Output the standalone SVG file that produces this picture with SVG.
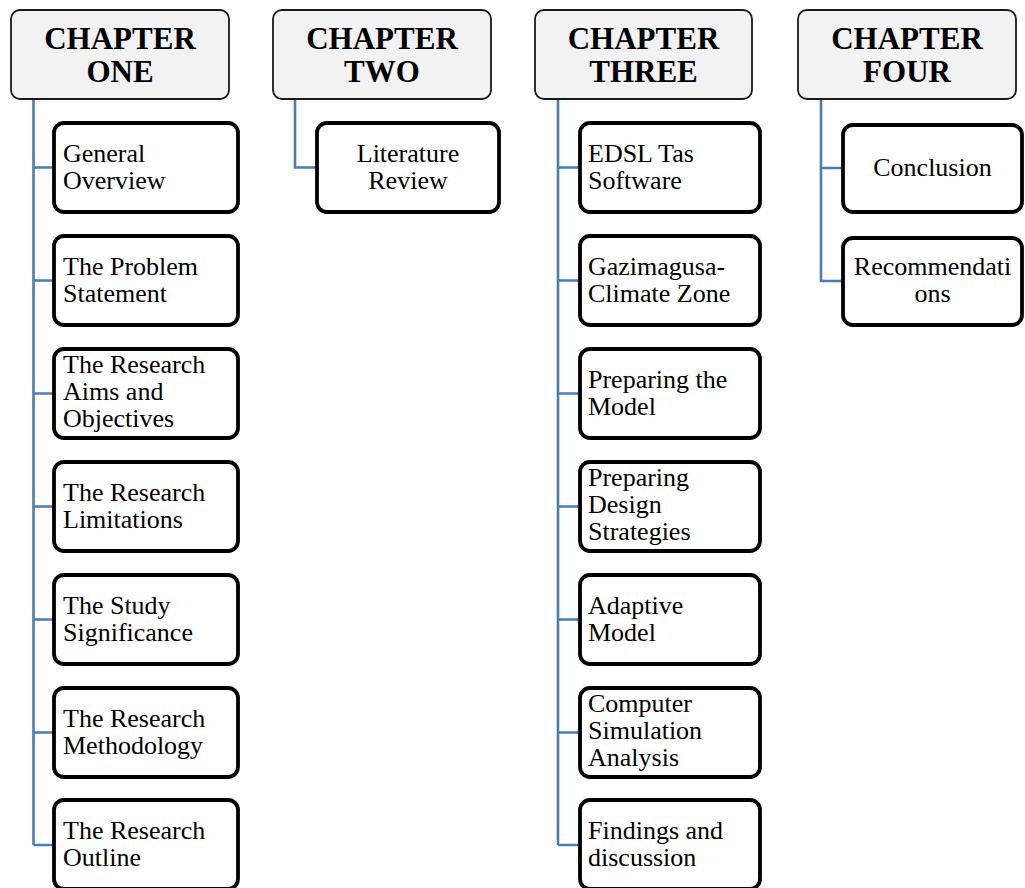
<svg xmlns="http://www.w3.org/2000/svg" width="1025" height="888" viewBox="0 0 1025 888">
<style>
.hdr{fill:#f2f2f2;stroke:#1a1a1a;stroke-width:1.8}
.box{fill:#ffffff;stroke:#000000;stroke-width:3.8}
.ht{font-family:"Liberation Serif","Times New Roman",serif;font-weight:bold;font-size:31px;fill:#000;text-anchor:middle}
.t{font-family:"Liberation Serif","Times New Roman",serif;font-size:26px;fill:#000}
.c{text-anchor:middle}
.conn{fill:none;stroke:#4a7db3;stroke-width:2.6}
</style>
<rect width="1025" height="888" fill="#ffffff"/>
<g id="connectors">
<path class="conn" d="M33.5,99 V845 M33.5,167.5 H53 M33.5,280.5 H53 M33.5,393.5 H53 M33.5,506.5 H53 M33.5,619.5 H53 M33.5,732.5 H53 M33.5,845 H53"/>
<path class="conn" d="M295,99 V167.5 H316"/>
<path class="conn" d="M558,99 V845 M558,167.5 H580 M558,280.5 H580 M558,393.5 H580 M558,506.5 H580 M558,619.5 H580 M558,732.5 H580 M558,845 H580"/>
<path class="conn" d="M821,99 V281 H842 M821,168 H842"/>
</g>
<g id="ch1">
<rect class="hdr" x="11" y="10" width="218" height="89" rx="9"/>
<text class="ht" x="120" y="49">CHAPTER</text>
<text class="ht" x="120" y="82">ONE</text>
</g>
<g id="ch2">
<rect class="hdr" x="273" y="10" width="218" height="89" rx="9"/>
<text class="ht" x="382" y="49">CHAPTER</text>
<text class="ht" x="382" y="82">TWO</text>
</g>
<g id="ch3">
<rect class="hdr" x="535" y="10" width="217" height="89" rx="9"/>
<text class="ht" x="643.5" y="49">CHAPTER</text>
<text class="ht" x="643.5" y="82">THREE</text>
</g>
<g id="ch4">
<rect class="hdr" x="798" y="10" width="218" height="89" rx="9"/>
<text class="ht" x="907" y="49">CHAPTER</text>
<text class="ht" x="907" y="82">FOUR</text>
</g>
<g id="c1n1"><rect class="box" x="54" y="123" width="184" height="89" rx="10"/><text class="t" x="63" y="162">General</text><text class="t" x="63" y="189">Overview</text></g>
<g id="c1n2"><rect class="box" x="54" y="236" width="184" height="89" rx="10"/><text class="t" x="63" y="275">The Problem</text><text class="t" x="63" y="302">Statement</text></g>
<g id="c1n3"><rect class="box" x="54" y="349" width="184" height="89" rx="10"/><text class="t" x="63" y="373">The Research</text><text class="t" x="63" y="400">Aims and</text><text class="t" x="63" y="427">Objectives</text></g>
<g id="c1n4"><rect class="box" x="54" y="462" width="184" height="89" rx="10"/><text class="t" x="63" y="501">The Research</text><text class="t" x="63" y="528">Limitations</text></g>
<g id="c1n5"><rect class="box" x="54" y="575" width="184" height="89" rx="10"/><text class="t" x="63" y="614">The Study</text><text class="t" x="63" y="641">Significance</text></g>
<g id="c1n6"><rect class="box" x="54" y="688" width="184" height="89" rx="10"/><text class="t" x="63" y="727">The Research</text><text class="t" x="63" y="754">Methodology</text></g>
<g id="c1n7"><rect class="box" x="54" y="800" width="184" height="89" rx="10"/><text class="t" x="63" y="839">The Research</text><text class="t" x="63" y="866">Outline</text></g>
<g id="c2n1"><rect class="box" x="317" y="123" width="182" height="89" rx="10"/><text class="t c" x="408" y="162">Literature</text><text class="t c" x="408" y="189">Review</text></g>
<g id="c3n1"><rect class="box" x="580" y="123" width="180" height="89" rx="10"/><text class="t" x="588" y="162">EDSL Tas</text><text class="t" x="588" y="189">Software</text></g>
<g id="c3n2"><rect class="box" x="580" y="236" width="180" height="89" rx="10"/><text class="t" x="588" y="275">Gazimagusa-</text><text class="t" x="588" y="302">Climate Zone</text></g>
<g id="c3n3"><rect class="box" x="580" y="349" width="180" height="89" rx="10"/><text class="t" x="588" y="388">Preparing the</text><text class="t" x="588" y="415">Model</text></g>
<g id="c3n4"><rect class="box" x="580" y="462" width="180" height="89" rx="10"/><text class="t" x="588" y="486">Preparing</text><text class="t" x="588" y="513">Design</text><text class="t" x="588" y="540">Strategies</text></g>
<g id="c3n5"><rect class="box" x="580" y="575" width="180" height="89" rx="10"/><text class="t" x="588" y="614">Adaptive</text><text class="t" x="588" y="641">Model</text></g>
<g id="c3n6"><rect class="box" x="580" y="688" width="180" height="89" rx="10"/><text class="t" x="588" y="712">Computer</text><text class="t" x="588" y="739">Simulation</text><text class="t" x="588" y="766">Analysis</text></g>
<g id="c3n7"><rect class="box" x="580" y="800" width="180" height="89" rx="10"/><text class="t" x="588" y="839">Findings and</text><text class="t" x="588" y="866">discussion</text></g>
<g id="c4n1"><rect class="box" x="843" y="125" width="179" height="87" rx="10"/><text class="t c" x="932.5" y="176">Conclusion</text></g>
<g id="c4n2"><rect class="box" x="843" y="238" width="179" height="87" rx="10"/><text class="t c" x="932.5" y="275">Recommendati</text><text class="t c" x="932.5" y="302">ons</text></g>
</svg>
